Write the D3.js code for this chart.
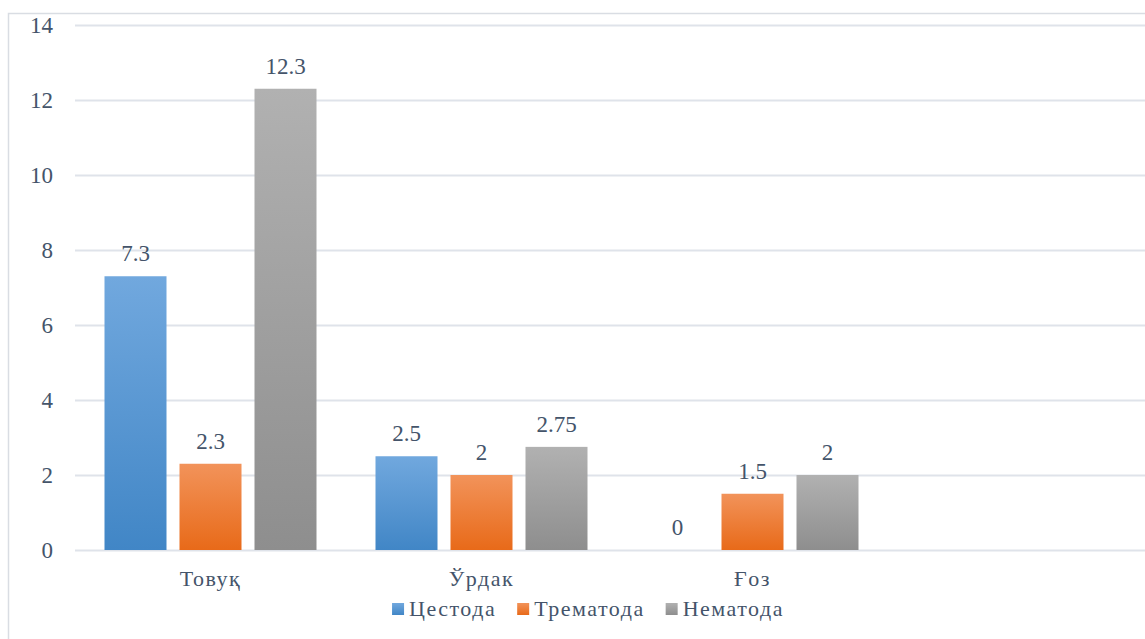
<!DOCTYPE html>
<html>
<head>
<meta charset="utf-8">
<script src="https://cdn.jsdelivr.net/npm/d3@7"></script>
<style>
  body { margin: 0; background: #fff; }
  svg text { font-family: 'Times New Roman', Times, 'Liberation Serif', 'DejaVu Serif', serif; }
</style>
</head>
<body>
<script>
// chart data
var categories = ["Товуқ", "Ўрдак", "Ғоз"];
var seriesNames = ["Цестода", "Трематода", "Нематода"];
var cestoda = [7.3, 2.5, 0];
var trematoda = [2.3, 2, 1.5];
var nematoda = [12.3, 2.75, 2];
var yTicks = [0, 2, 4, 6, 8, 10, 12, 14];

var seriesValues = [cestoda, trematoda, nematoda];
var gradColors = [["#71a8de", "#4186c6"], ["#f2935a", "#e86a19"], ["#b1b1b1", "#8e8e8e"]];

var W = 1145, H = 639;
var plotLeft = 75, plotTop = 25, plotBottom = 550;
var textColor = "#44546a";

var svg = d3.select("body").append("svg")
  .attr("width", W)
  .attr("height", H);

// gradients for bars
var defs = svg.append("defs");
gradColors.forEach(function(c, i) {
  var g = defs.append("linearGradient")
    .attr("id", "grad" + i)
    .attr("x1", 0).attr("y1", 0).attr("x2", 0).attr("y2", 1);
  g.append("stop").attr("offset", "0%").attr("stop-color", c[0]);
  g.append("stop").attr("offset", "100%").attr("stop-color", c[1]);
});

// chart border (runs off the picture on the right and bottom)
svg.append("rect")
  .attr("x", 8.5).attr("y", 13.5)
  .attr("width", W + 50).attr("height", H + 50)
  .attr("fill", "none")
  .attr("stroke", "#d9dde3")
  .attr("stroke-width", 1.5);

// scales
var y = d3.scaleLinear().domain([0, 14]).range([plotBottom, plotTop]);
var step = 271;
var x0 = d3.scaleBand().domain(categories)
  .range([plotLeft, plotLeft + step * categories.length]);
var groupW = 212;
var x1 = d3.scaleBand().domain(d3.range(seriesNames.length))
  .range([0, groupW])
  .paddingInner(13 / 75);

// gridlines
svg.append("g")
  .selectAll("line")
  .data(yTicks)
  .enter().append("line")
  .attr("x1", plotLeft).attr("x2", W)
  .attr("y1", function(d) { return Math.round(y(d)) + 0.5; })
  .attr("y2", function(d) { return Math.round(y(d)) + 0.5; })
  .attr("stroke", "#dfe3ea")
  .attr("stroke-width", 2);

// y labels
svg.append("g")
  .selectAll("text")
  .data(yTicks)
  .enter().append("text")
  .attr("x", 53)
  .attr("y", function(d) { return y(d); })
  .attr("dy", "0.33em")
  .attr("text-anchor", "end")
  .attr("fill", textColor)
  .attr("font-size", 23)
  .text(function(d) { return d; });

// bars
var groups = svg.append("g")
  .selectAll("g")
  .data(categories)
  .enter().append("g")
  .attr("transform", function(d) {
    return "translate(" + (x0(d) + (x0.bandwidth() - groupW) / 2) + ",0)";
  });

groups.each(function(cat, ci) {
  var g = d3.select(this);
  seriesValues.forEach(function(vals, si) {
    var v = vals[ci];
    if (v > 0) {
      g.append("rect")
        .attr("x", x1(si))
        .attr("y", y(v))
        .attr("width", x1.bandwidth())
        .attr("height", y(0) - y(v))
        .attr("fill", "url(#grad" + si + ")");
    }
    g.append("text")
      .attr("x", x1(si) + x1.bandwidth() / 2)
      .attr("y", y(v) - 15)
      .attr("text-anchor", "middle")
      .attr("fill", textColor)
      .attr("font-size", 23)
      .text(v);
  });
});

// category labels
svg.append("g")
  .selectAll("text")
  .data(categories)
  .enter().append("text")
  .attr("x", function(d) { return x0(d) + x0.bandwidth() / 2; })
  .attr("y", 586)
  .attr("text-anchor", "middle")
  .attr("fill", textColor)
  .attr("font-size", 22)
  .attr("letter-spacing", 1.5)
  .text(function(d) { return d; });

// legend
var legend = svg.append("g");
var lx = 0;
seriesNames.forEach(function(name, i) {
  var item = legend.append("g").attr("transform", "translate(" + lx + ",0)");
  item.append("rect")
    .attr("x", 0).attr("y", 603)
    .attr("width", 12).attr("height", 12)
    .attr("fill", "url(#grad" + i + ")");
  var t = item.append("text")
    .attr("x", 17).attr("y", 616)
    .attr("fill", textColor)
    .attr("font-size", 22)
    .attr("letter-spacing", 1.5)
    .text(name);
  lx += 17 + t.node().getComputedTextLength() + 21;
});
var legendW = lx - 21;
legend.attr("transform", "translate(" + (588 - legendW / 2) + ",0)");
</script>
</body>
</html>
